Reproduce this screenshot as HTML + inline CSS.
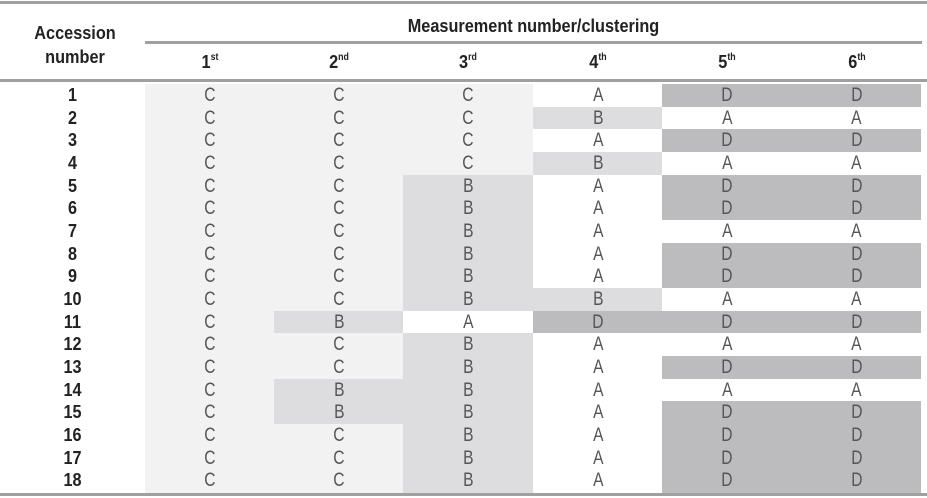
<!DOCTYPE html>
<html><head><style>
body{margin:0;width:927px;height:498px;background:#fff;position:relative;overflow:hidden;font-family:"Liberation Sans",sans-serif;}
.l{position:absolute;background:#a0a0a0;}
.h{position:absolute;font-weight:bold;color:#222;font-size:18.5px;text-align:center;transform:scaleX(0.88);}
.c{position:absolute;height:23px;width:130px;text-align:center;font-size:19px;line-height:23px;color:#555;}
.c span{display:inline-block;transform:scaleX(0.82);}
.n{position:absolute;left:0;width:145px;text-align:center;font-weight:bold;font-size:18px;line-height:23px;color:#222;transform:scaleX(0.9);}
sup{font-size:10px;vertical-align:8px;}
</style></head><body>
<div class="l" style="left:0;top:1px;width:927px;height:3px"></div>
<div class="l" style="left:145px;top:41px;width:777px;height:3px"></div>
<div class="l" style="left:0;top:79px;width:927px;height:3px"></div>
<div class="l" style="left:0;top:493px;width:927px;height:3px"></div>
<div class="h" style="left:0;top:21px;width:150px;line-height:24px">Accession<br>number</div>
<div class="h" style="left:145px;top:15px;width:777px">Measurement number/clustering</div>
<div id="g"></div>
<script>
const data=["CCCADD","CCCBAA","CCCADD","CCCBAA","CCBADD","CCBADD","CCBAAA","CCBADD","CCBADD","CCBBAA","CBADDD","CCBAAA","CCBADD","CBBAAA","CBBADD","CCBADD","CCBADD","CCBADD"];
const col={C:"#f2f2f3",B:"#dddddf",A:"#ffffff",D:"#bcbcbe"};
const xs=[145,274,403,533,662,792];
const ord=["1<sup>st</sup>","2<sup>nd</sup>","3<sup>rd</sup>","4<sup>th</sup>","5<sup>th</sup>","6<sup>th</sup>"];
let h="";
for(let j=0;j<6;j++)h+=`<div class="h" style="left:${xs[j]}px;top:51px;width:130px">${ord[j]}</div>`;
const y0=84,rh=22.67;
data.forEach((r,i)=>{const y=y0+i*rh;
h+=`<div class="n" style="top:${y}px">${i+1}</div>`;
for(let j=0;j<6;j++){const w=j==5?129:130;h+=`<div class="c" style="left:${xs[j]}px;top:${y}px;width:${w}px;height:${rh+0.5}px;background:${col[r[j]]}"><span>${r[j]}</span></div>`;}
});
document.getElementById("g").innerHTML=h;
</script>
</body></html>
